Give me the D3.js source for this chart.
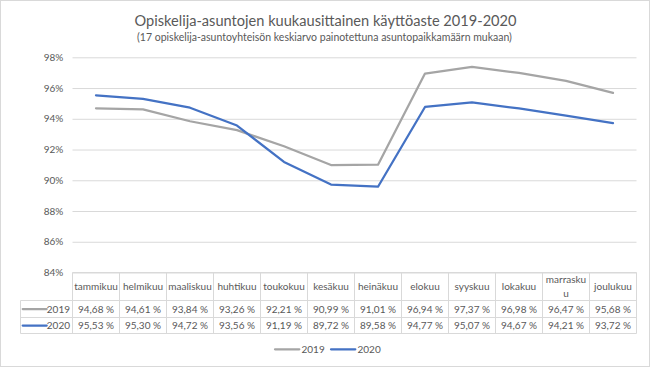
<!DOCTYPE html>
<html><head><meta charset="utf-8">
<script src="https://cdn.jsdelivr.net/npm/d3@7"></script>
<style>
body{margin:0;background:#fff}
svg{display:block}
text{font-family:Lato,"Open Sans",sans-serif;fill:#595959}
</style>
</head><body>
<svg id="c" width="650" height="367"></svg>
<script>
const months = ["tammikuu","helmikuu","maaliskuu","huhtikuu","toukokuu","kesäkuu","heinäkuu","elokuu","syyskuu","lokakuu","marraskuu","joulukuu"];
// header tick labels as shown in the table (Excel wrapped "marraskuu")
const headerLabels = ["tammikuu","helmikuu","maaliskuu","huhtikuu","toukokuu","kesäkuu","heinäkuu","elokuu","syyskuu","lokakuu","marrasku\nu","joulukuu"];
const seriesNames = ["2019","2020"];
const values2019 = [94.68,94.61,93.84,93.26,92.21,90.99,91.01,96.94,97.37,96.98,96.47,95.68];
const values2020 = [95.53,95.30,94.72,93.56,91.19,89.72,89.58,94.77,95.07,94.67,94.21,93.72];
const yTicks = [84,86,88,90,92,94,96,98];
const seriesColors = ["#A5A5A5","#4472C4"];
const titleText = "Opiskelija-asuntojen kuukausittainen käyttöaste 2019-2020";
const subtitleText = "(17 opiskelija-asuntoyhteisön keskiarvo painotettuna asuntopaikkamäärn mukaan)";

const series = [
  {name: seriesNames[0], values: values2019, color: seriesColors[0]},
  {name: seriesNames[1], values: values2020, color: seriesColors[1]}
];

const W = 650, H = 367;
const FONT = 'Lato, "Open Sans", sans-serif';
const FS = 10;
const svg = d3.select("#c");
const grid = "#D9D9D9";

svg.append("rect").attr("x",0.5).attr("y",0.5).attr("width",W-1).attr("height",H-1)
  .attr("fill","#fff").attr("stroke",grid);

// title
svg.append("text").attr("x",325.5).attr("y",26).attr("text-anchor","middle")
  .style("font-size","14.6px").text(titleText);
svg.append("text").attr("x",324.5).attr("y",40.5).attr("text-anchor","middle")
  .style("font-size","10.5px").text(subtitleText);

const plot = {left:72.5, right:636.5, top:57.3, bottom:272.5};
const x = d3.scaleBand().domain(months).range([plot.left, plot.right]);
const y = d3.scaleLinear().domain([84,98]).range([plot.bottom, plot.top]);

const yAxis = d3.axisLeft(y).tickValues(yTicks).tickSize(-(plot.right-plot.left))
  .tickFormat(d => d + "%");
const gy = svg.append("g").attr("transform",`translate(${plot.left},0)`).call(yAxis)
  .attr("font-family", FONT).attr("font-size", FS);
gy.select(".domain").remove();
gy.selectAll(".tick line").attr("stroke", grid).attr("stroke-width",1);
gy.selectAll(".tick text").attr("x",-9.2).attr("fill","#595959");

// lines
const line = d3.line()
  .x((d,i) => x(months[i]) + x.bandwidth()/2)
  .y(d => y(d));
svg.selectAll("path.series").data(series).join("path")
  .attr("class","series")
  .attr("d", d => line(d.values))
  .attr("fill","none").attr("stroke", d => d.color).attr("stroke-width",2.25)
  .attr("stroke-linejoin","round").attr("stroke-linecap","round");

// data table
const loc = d3.formatLocale({decimal:",", thousands:" ", grouping:[3], currency:["","€"]});
const fmt = v => loc.format(".2f")(v) + " %";
const rowY = [272.5, 300.5, 317.5, 333.5];
const keyLeft = 20.5;
const tbl = svg.append("g").attr("class","table");
tbl.append("line").attr("x1",plot.left).attr("x2",plot.right).attr("y1",rowY[0]).attr("y2",rowY[0]).attr("stroke",grid);
[rowY[1],rowY[2],rowY[3]].forEach(yy => {
  tbl.append("line").attr("x1",keyLeft).attr("x2",plot.right).attr("y1",yy).attr("y2",yy).attr("stroke",grid);
});
const bounds = months.map(m => x(m)).concat([plot.right]);
tbl.selectAll("line.v").data(bounds).join("line").attr("class","v")
  .attr("x1",d=>d).attr("x2",d=>d).attr("y1",rowY[0]).attr("y2",rowY[3]).attr("stroke",grid);
tbl.append("line").attr("x1",keyLeft).attr("x2",keyLeft).attr("y1",rowY[1]).attr("y2",rowY[3]).attr("stroke",grid);

// header labels
tbl.selectAll("text.h").data(months).join("text").attr("class","h")
  .attr("text-anchor","middle").style("font-size", FS + "px")
  .each(function(d, i){
    const t = d3.select(this);
    const lines = headerLabels[i].split("\n");
    const cx = x(d) + x.bandwidth()/2;
    const mid = (rowY[0]+rowY[1])/2;
    const lh = 13.5;
    lines.forEach((ln,j) => {
      t.append("tspan").attr("x", cx)
        .attr("y", mid + (j - (lines.length-1)/2)*lh).attr("dy","0.35em").text(ln);
    });
  });

series.forEach((s, si) => {
  const mid = (rowY[si+1] + rowY[si+2]) / 2;
  tbl.selectAll("text.v"+si).data(s.values).join("text").attr("class","v"+si)
    .attr("text-anchor","middle").style("font-size", FS + "px")
    .attr("x",(d,i)=> x(months[i]) + x.bandwidth()/2).attr("y",mid).attr("dy","0.35em")
    .text(d => fmt(d));
  tbl.append("line").attr("x1",22.7).attr("x2",46.7).attr("y1",mid).attr("y2",mid)
    .attr("stroke",s.color).attr("stroke-width",2.25).attr("stroke-linecap","round");
  tbl.append("text").attr("x",70).attr("y",mid).attr("dy","0.35em").attr("text-anchor","end")
    .style("font-size", FS + "px").text(s.name);
});

// legend
const legendY = 349.3;
const legendX = [275, 331];
const lg = svg.append("g").selectAll("g").data(series).join("g")
  .attr("transform",(d,i)=>`translate(${legendX[i]},${legendY})`);
lg.append("line").attr("x1",0).attr("x2",24.3).attr("y1",0).attr("y2",0)
  .attr("stroke",d=>d.color).attr("stroke-width",2.25).attr("stroke-linecap","round");
lg.append("text").attr("x",26.5).attr("y",0).attr("dy","0.35em").style("font-size", FS + "px").text(d=>d.name);
</script>
</body></html>
